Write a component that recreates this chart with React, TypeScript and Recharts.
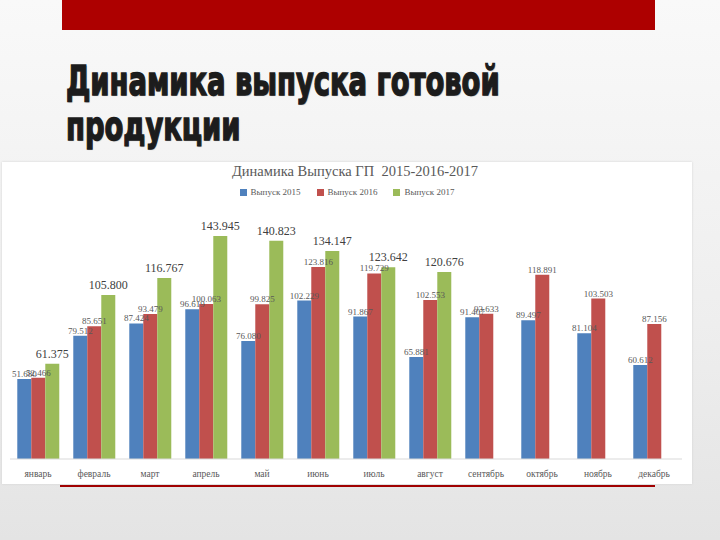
import {
  BarChart,
  Bar,
  XAxis,
  YAxis,
  Legend,
  LabelList,
} from "recharts";

// months on the category axis
const months = [
  "январь",
  "февраль",
  "март",
  "апрель",
  "май",
  "июнь",
  "июль",
  "август",
  "сентябрь",
  "октябрь",
  "ноябрь",
  "декабрь",
];

// output per month, by year
const output2015 = [
  51.68, 79.512, 87.424, 96.619, 76.08, 102.229, 91.867, 65.881, 91.407,
  89.497, 81.104, 60.612,
];
const output2016 = [
  52.466, 85.651, 93.479, 100.063, 99.825, 123.816, 119.729, 102.553, 93.633,
  118.891, 103.503, 87.156,
];
const output2017 = [
  61.375, 105.8, 116.767, 143.945, 140.823, 134.147, 123.642, 120.676, null,
  null, null, null,
];

const seriesNames = ["Выпуск 2015", "Выпуск 2016", "Выпуск 2017"];

const chartData = months.map((month, i) => ({
  month,
  y2015: output2015[i],
  y2016: output2016[i],
  y2017: output2017[i],
}));

const serif = "'Liberation Serif', 'DejaVu Serif', serif";

// 51.68 -> "51.680"
const fmt = (v: any) => (v == null ? "" : Number(v).toFixed(3));

export default function App() {
  return (
    <div
      style={{
        position: "absolute",
        left: 0,
        top: 0,
        width: 720,
        height: 540,
        overflow: "hidden",
        background: "linear-gradient(to bottom, #f9f9f9 0%, #eeeeee 60%, #e4e4e4 100%)",
      }}
    >
      {/* red band at the top of the slide */}
      <div
        style={{
          position: "absolute",
          left: 62,
          top: 0,
          width: 593,
          height: 30,
          background: "#ad0000",
        }}
      />

      {/* slide heading (squeezed to look like a condensed face) */}
      <div
        style={{
          position: "absolute",
          left: 66,
          top: 59,
          fontFamily: "'DejaVu Sans', sans-serif",
          fontWeight: "bold",
          fontSize: 38,
          lineHeight: "42px",
          color: "#1c1c1c",
          WebkitTextStroke: "1.4px #1c1c1c",
          textShadow: "1px 1px 1px #9a9a9a",
          transform: "scale(0.72, 1.06)",
          transformOrigin: "0 0",
          whiteSpace: "nowrap",
        }}
      >
        Динамика выпуска готовой
        <br />
        продукции
      </div>

      {/* chart picture */}
      <div
        style={{
          position: "absolute",
          left: 2,
          top: 162,
          width: 690,
          height: 322,
          background: "#ffffff",
          boxShadow: "0 0 2px #d0d0d0",
        }}
      >
        <div
          style={{
            position: "absolute",
            left: 8,
            top: 1,
            width: 690,
            textAlign: "center",
            fontFamily: serif,
            fontSize: 14.5,
            color: "#595959",
            whiteSpace: "pre",
          }}
        >
          {"Динамика Выпуска ГП  2015-2016-2017"}
        </div>
        <BarChart
          width={690}
          height={322}
          data={chartData}
          margin={{ top: 33, right: 10, left: 8, bottom: 0 }}
          barCategoryGap="13%"
          barGap={0}
        >
          <XAxis
            dataKey="month"
            height={25}
            tickLine={false}
            axisLine={{ stroke: "#d9d9d9" }}
            tick={{ fontFamily: serif, fontSize: 9.5, fill: "#595959" }}
            tickMargin={5}
          />
          <YAxis hide domain={[0, 160]} />
          <Legend
            verticalAlign="top"
            align="center"
            iconType="square"
            iconSize={7}
            height={16}
            wrapperStyle={{ top: 24, left: 8, width: 690, fontFamily: serif, fontSize: 9, lineHeight: "12px" }}
            formatter={(value) => (
              <span style={{ color: "#595959", marginRight: 6 }}>{value}</span>
            )}
          />
          <Bar
            dataKey="y2015"
            name={seriesNames[0]}
            fill="#4f81bd"
            isAnimationActive={false}
          >
            <LabelList
              dataKey="y2015"
              position="top"
              offset={2}
              formatter={fmt}
              style={{ fontFamily: serif, fontSize: 9, fill: "#595959" }}
            />
          </Bar>
          <Bar
            dataKey="y2016"
            name={seriesNames[1]}
            fill="#c0504d"
            isAnimationActive={false}
          >
            <LabelList
              dataKey="y2016"
              position="top"
              offset={2}
              formatter={fmt}
              style={{ fontFamily: serif, fontSize: 9, fill: "#595959" }}
            />
          </Bar>
          <Bar
            dataKey="y2017"
            name={seriesNames[2]}
            fill="#9bbb59"
            isAnimationActive={false}
          >
            <LabelList
              dataKey="y2017"
              position="top"
              offset={6}
              formatter={fmt}
              style={{ fontFamily: serif, fontSize: 12, fill: "#404040" }}
            />
          </Bar>
        </BarChart>
      </div>

      {/* dark red rule under the chart */}
      <div
        style={{
          position: "absolute",
          left: 60,
          top: 485,
          width: 595,
          height: 2,
          background: "#a00000",
        }}
      />
    </div>
  );
}
